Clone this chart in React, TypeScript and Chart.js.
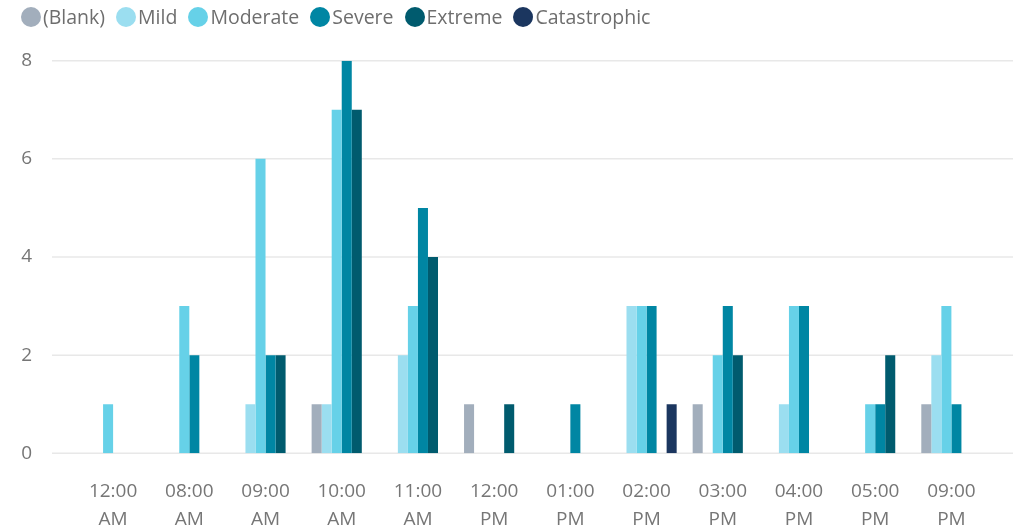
import React, { useEffect, useRef } from "react";
import { Chart, registerables } from "chart.js";

Chart.register(...registerables);

const categories: string[][] = [
  ["12:00", "AM"],
  ["08:00", "AM"],
  ["09:00", "AM"],
  ["10:00", "AM"],
  ["11:00", "AM"],
  ["12:00", "PM"],
  ["01:00", "PM"],
  ["02:00", "PM"],
  ["03:00", "PM"],
  ["04:00", "PM"],
  ["05:00", "PM"],
  ["09:00", "PM"],
];

const seriesNames = ["(Blank)", "Mild", "Moderate", "Severe", "Extreme", "Catastrophic"];
const seriesColors = ["#A2AEBC", "#9BDEF0", "#66D1E8", "#0086A3", "#005B6E", "#1B365F"];

const blankValues = [0, 0, 0, 1, 0, 1, 0, 0, 1, 0, 0, 1];
const mildValues = [0, 0, 1, 1, 2, 0, 0, 3, 0, 1, 0, 2];
const moderateValues = [1, 3, 6, 7, 3, 0, 0, 3, 2, 3, 1, 3];
const severeValues = [0, 2, 2, 8, 5, 0, 1, 3, 3, 3, 1, 1];
const extremeValues = [0, 0, 2, 7, 4, 1, 0, 0, 2, 0, 2, 0];
const catastrophicValues = [0, 0, 0, 0, 0, 0, 0, 1, 0, 0, 0, 0];

const yTicks = [0, 2, 4, 6, 8];

const FONT = "'Open Sans', 'Segoe UI', sans-serif";
const TEXT_COLOR = "#767676";

const gridPlugin = {
  id: "extendedGrid",
  beforeDatasetsDraw(chart: any) {
    const ctx = chart.ctx;
    const y = chart.scales.y;
    ctx.save();
    ctx.strokeStyle = "#e8e8e8";
    ctx.lineWidth = 1.5;
    yTicks.forEach((v) => {
      const py = y.getPixelForValue(v);
      ctx.beginPath();
      ctx.moveTo(52, py);
      ctx.lineTo(1013, py);
      ctx.stroke();
    });
    ctx.restore();
  },
};

export default function App() {
  const canvasRef = useRef<HTMLCanvasElement | null>(null);

  useEffect(() => {
    const allValues = [
      blankValues,
      mildValues,
      moderateValues,
      severeValues,
      extremeValues,
      catastrophicValues,
    ];
    const chart = new Chart(canvasRef.current as HTMLCanvasElement, {
      type: "bar",
      data: {
        labels: categories,
        datasets: allValues.map((vals, i) => ({
          label: seriesNames[i],
          data: vals,
          backgroundColor: seriesColors[i],
          borderWidth: 0,
          categoryPercentage: 0.79,
          barPercentage: 1.0,
        })),
      },
      options: {
        animation: false,
        responsive: false,
        maintainAspectRatio: false,
        layout: { padding: { top: 60.7, left: 0, right: 35.5, bottom: 0 } },
        plugins: {
          legend: { display: false },
          tooltip: { enabled: false },
        },
        scales: {
          x: {
            grid: { display: false, drawTicks: false },
            border: { display: false },
            ticks: {
              color: TEXT_COLOR,
              font: { family: FONT, size: 19, lineHeight: 1.45 },
              padding: 25,
              maxRotation: 0,
              autoSkip: false,
            },
            afterFit(scale: any) {
              scale.height = 77.7;
            },
          },
          y: {
            min: 0,
            max: 8,
            grid: { display: false, drawTicks: false },
            border: { display: false },
            ticks: {
              stepSize: 2,
              color: TEXT_COLOR,
              font: { family: FONT, size: 19 },
              padding: 43,
            },
            afterFit(scale: any) {
              scale.width = 75;
            },
          },
        },
      },
      plugins: [gridPlugin],
    });
    return () => chart.destroy();
  }, []);

  return (
    <div style={{ position: "absolute", left: 0, top: 0, width: 1025, height: 531, background: "#fff" }}>
      <canvas ref={canvasRef} width={1025} height={531} style={{ position: "absolute", left: 0, top: 0 }} />
      <div
        style={{
          position: "absolute",
          left: 21,
          top: 4,
          display: "flex",
          alignItems: "center",
          fontFamily: FONT,
          fontSize: 19.5,
          color: "#6e6e6e",
          lineHeight: "26px",
          whiteSpace: "nowrap",
        }}
      >
        {seriesNames.map((name, i) => (
          <div key={name} style={{ display: "flex", alignItems: "center", marginRight: 11 }}>
            <span
              style={{
                width: 20,
                height: 20,
                borderRadius: "50%",
                background: seriesColors[i],
                display: "inline-block",
                marginRight: 2,
              }}
            />
            <span>{name}</span>
          </div>
        ))}
      </div>
    </div>
  );
}
